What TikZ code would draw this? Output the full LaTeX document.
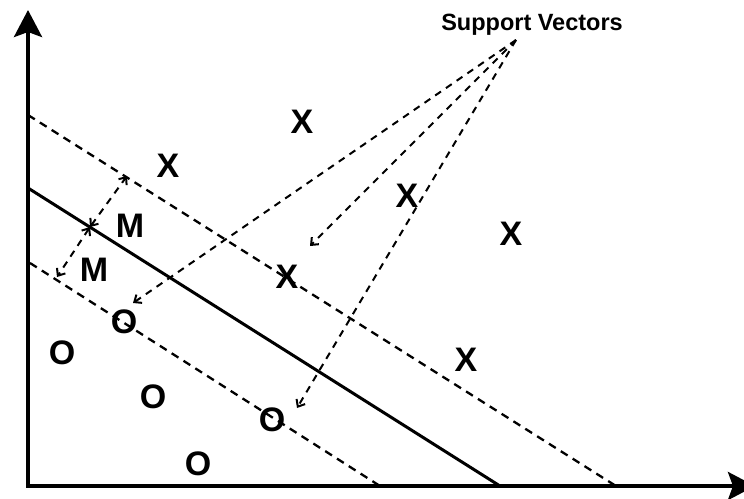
\documentclass[tikz,border=0pt]{standalone}
\usepackage{fontspec}
\setmainfont{Liberation Sans}
\usetikzlibrary{arrows.meta}
\tikzset{
  axis/.style={line width=4pt, -{Stealth[length=27pt,width=28pt,inset=5pt]}},
  hyper/.style={line width=3pt},
  margin/.style={line width=2.3pt, dash pattern=on 8pt off 6pt},
  marr/.style={line width=2pt, dash pattern=on 7pt off 6pt, {Straight Barb[length=6pt,width=10pt]}-{Straight Barb[length=6pt,width=10pt]}},
  svarr/.style={line width=2pt, dash pattern=on 7pt off 6pt, -{Straight Barb[length=6pt,width=10pt]}},
  pt/.style={inner sep=0pt, font=\bfseries\fontsize{34}{40}\selectfont},
  lbl/.style={inner sep=0pt, font=\bfseries\fontsize{23.5}{27}\selectfont}
}
\begin{document}
\begin{tikzpicture}[x=1pt,y=-1pt]
\useasboundingbox (0,0) rectangle (744,498);
\clip (0,0) rectangle (744,498);
% axes
\coordinate (o) at (28,486);
\coordinate (ytip) at (28,10);
\coordinate (xtip) at (755,486);
\draw[axis] ([yshift=2pt]o) -- (ytip);
\draw[axis] ([xshift=-2pt]o) -- (xtip);
% hyperplane and margins
\coordinate (h1) at (28,188);
\coordinate (h2) at (500,486);
\coordinate (u1) at (28,115);
\coordinate (u2) at (616,486);
\coordinate (l1) at (30,263);
\coordinate (l2) at (380,486);
\draw[hyper] (h1) -- (h2);
\draw[margin] (u1) -- (u2);
\draw[margin] (l1) -- (l2);
% margin arrows
\coordinate (m0) at (90,227);
\coordinate (m1) at (127,176);
\coordinate (m2) at (57,277);
\draw[marr] (m0) -- (m1);
\draw[marr] (m0) -- (m2);
\node[pt] (M1) at (130,226) {M};
\node[pt] (M2) at (94,270) {M};
% points
\node[pt] (x1) at (302,122) {X};
\node[pt] (x2) at (168,166) {X};
\node[pt] (x3) at (407,196) {X};
\node[pt] (x4) at (511,234) {X};
\node[pt] (x5) at (287,277) {X};
\node[pt] (x6) at (466,360) {X};
\node[pt] (o1) at (124,322) {O};
\node[pt] (o2) at (62,353) {O};
\node[pt] (o3) at (153,397) {O};
\node[pt] (o4) at (272,420) {O};
\node[pt] (o5) at (198,464) {O};
% support vectors
\node[lbl] (sv) at (532,25) {Support Vectors};
\coordinate (s0) at (516,40);
\coordinate (t1) at (133,303);
\coordinate (t2) at (310,246);
\coordinate (t3) at (297,408);
\draw[svarr] (s0) -- (t1);
\draw[svarr] (s0) -- (t2);
\draw[svarr] (s0) -- (t3);
\end{tikzpicture}
\end{document}
